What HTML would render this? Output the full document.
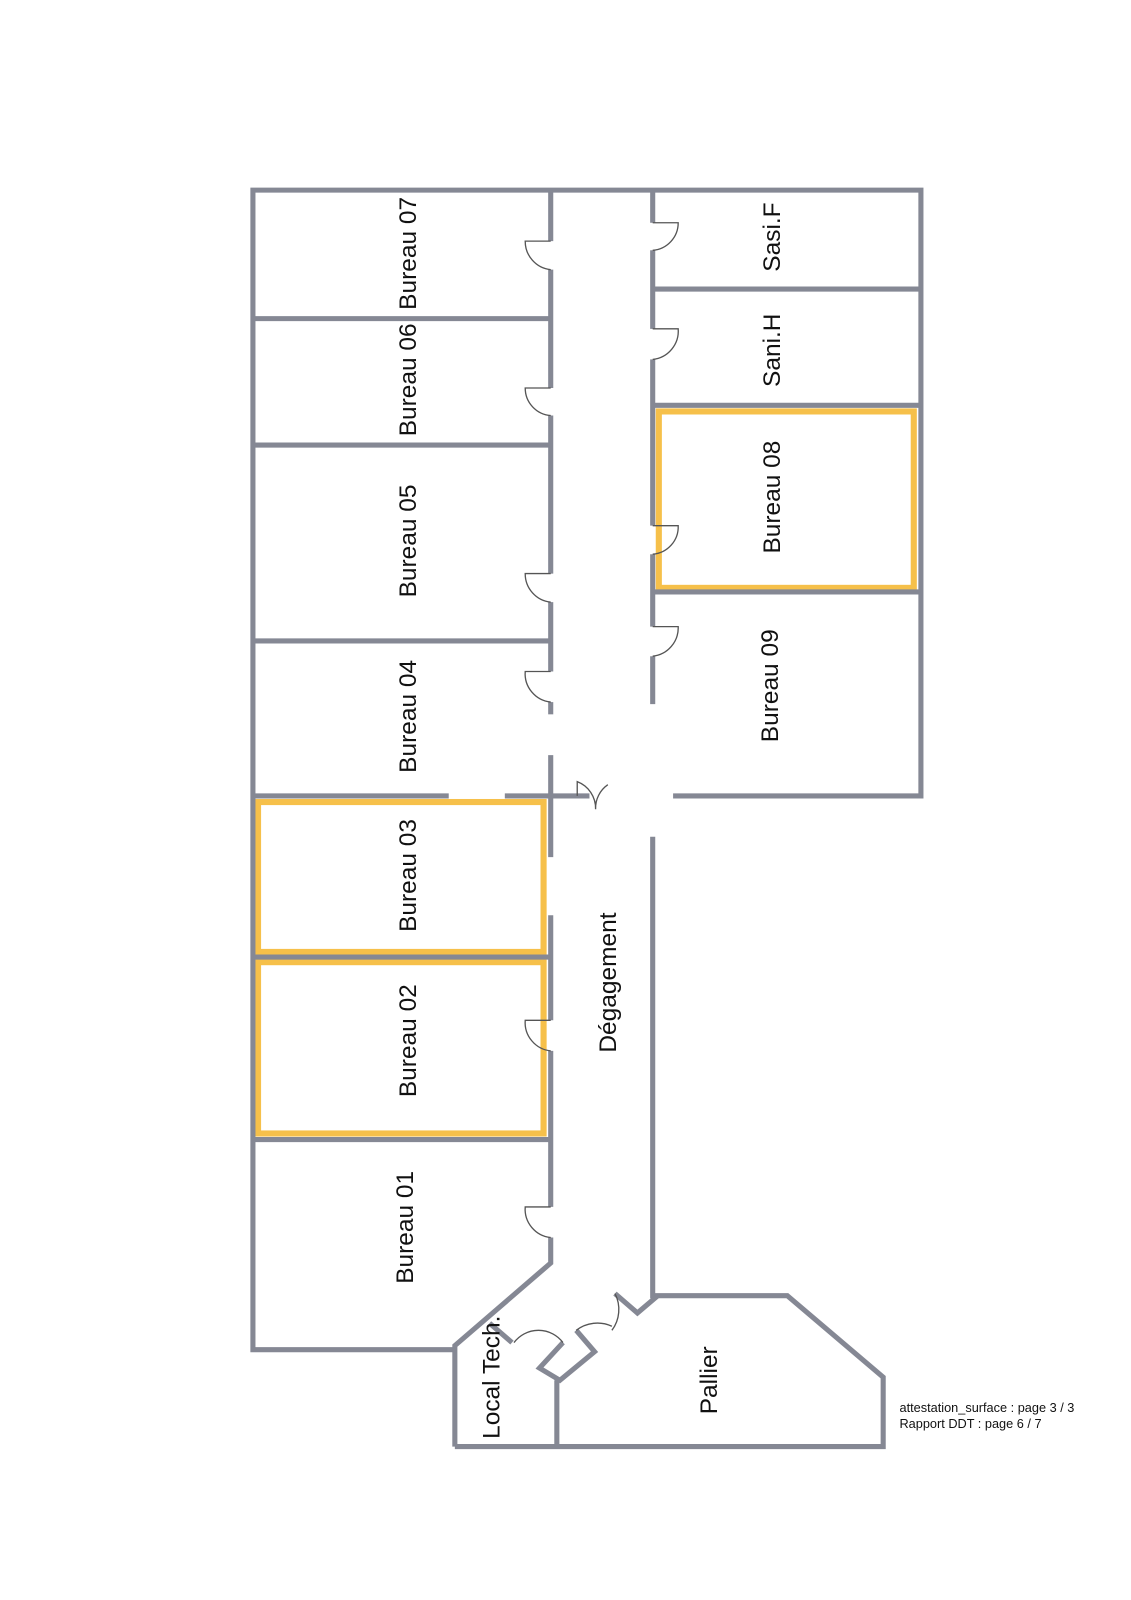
<!DOCTYPE html>
<html><head><meta charset="utf-8"><style>
html,body{margin:0;padding:0;background:#fff;}
svg{display:block;}
text{font-family:"Liberation Sans",sans-serif;fill:#111;}
</style></head><body>
<svg width="1131" height="1600" viewBox="0 0 1109 1568" xmlns="http://www.w3.org/2000/svg">
<rect width="1109" height="1568" fill="#fff"/>
<g fill="none" stroke="#f6c04a" stroke-width="6">
<rect x="253" y="786" width="280" height="147"/>
<rect x="253" y="943" width="280" height="168"/>
<rect x="646" y="403" width="250" height="173"/>
</g>
<g fill="none" stroke="#858894" stroke-width="5" stroke-linejoin="miter">
<polyline points="446,1323 248,1323 248,186 903,186 903,780 660,780"/>
<line x1="540" y1="186" x2="540" y2="236"/>
<line x1="540" y1="264" x2="540" y2="380"/>
<line x1="540" y1="407" x2="540" y2="562"/>
<line x1="540" y1="590" x2="540" y2="658"/>
<line x1="540" y1="688" x2="540" y2="700"/>
<line x1="540" y1="740" x2="540" y2="840"/>
<line x1="540" y1="897" x2="540" y2="1000"/>
<line x1="540" y1="1030" x2="540" y2="1183"/>
<polyline points="540,1213 540,1238 446,1319 446,1418"/>
<line x1="640" y1="186" x2="640" y2="218"/>
<line x1="640" y1="245" x2="640" y2="322"/>
<line x1="640" y1="352" x2="640" y2="515"/>
<line x1="640" y1="543" x2="640" y2="614"/>
<line x1="640" y1="643" x2="640" y2="690"/>
<polyline points="640,820 640,1270 772,1270 866,1350 866,1418 446,1418"/>
<line x1="640" y1="283" x2="903" y2="283"/>
<line x1="640" y1="397" x2="903" y2="397"/>
<line x1="640" y1="580" x2="903" y2="580"/>
<line x1="248" y1="312" x2="540" y2="312"/>
<line x1="248" y1="436" x2="540" y2="436"/>
<line x1="248" y1="628" x2="540" y2="628"/>
<line x1="248" y1="780" x2="440" y2="780"/>
<line x1="495" y1="780" x2="578" y2="780"/>
<line x1="248" y1="938" x2="540" y2="938"/>
<line x1="248" y1="1117" x2="540" y2="1117"/>
<line x1="546" y1="1418" x2="546" y2="1353"/>
<polyline points="552,1316 529,1341 549,1353 583,1325 565,1304"/>
<polyline points="603,1268 625,1287 645,1270"/>
<polyline points="480,1297 502,1316"/>
</g>
<g fill="none" stroke="#555" stroke-width="1.3">
<path d="M540,236 H515 A28,28 0 0 0 540,264"/>
<path d="M540,380 H515 A27,27 0 0 0 540,407"/>
<path d="M540,562 H515 A28,28 0 0 0 540,590"/>
<path d="M540,658 H515 A28,28 0 0 0 540,688"/>
<path d="M540,1000 H515 A28,28 0 0 0 540,1030"/>
<path d="M540,1183 H515 A28,28 0 0 0 540,1213"/>
<path d="M640,218 H665 A27,27 0 0 1 640,245"/>
<path d="M640,322 H665 A28,28 0 0 1 640,352"/>
<path d="M640,515 H665 A27,27 0 0 1 640,543"/>
<path d="M640,614 H665 A28,28 0 0 1 640,643"/>
<path d="M566,780 V766 A28,28 0 0 1 584,793 A28,28 0 0 1 596,769"/>
<path d="M504,1316 A30,30 0 0 1 552,1316"/>
<path d="M565,1304 A34,34 0 0 1 600,1300"/>
<path d="M603,1268 A34,34 0 0 1 600,1304"/>
</g>
<g font-size="24" text-anchor="middle">
<text transform="translate(408,248) rotate(-90)">Bureau 07</text>
<text transform="translate(408,372) rotate(-90)">Bureau 06</text>
<text transform="translate(408,530) rotate(-90)">Bureau 05</text>
<text transform="translate(408,702) rotate(-90)">Bureau 04</text>
<text transform="translate(408,858) rotate(-90)">Bureau 03</text>
<text transform="translate(408,1020) rotate(-90)">Bureau 02</text>
<text transform="translate(405,1203) rotate(-90)">Bureau 01</text>
<text transform="translate(765,232) rotate(-90)">Sasi.F</text>
<text transform="translate(765,343) rotate(-90)">Sani.H</text>
<text transform="translate(765,487) rotate(-90)">Bureau 08</text>
<text transform="translate(763,672) rotate(-90)">Bureau 09</text>
<text transform="translate(604,963) rotate(-90)">Dégagement</text>
<text transform="translate(703,1353) rotate(-90)">Pallier</text>
<text transform="translate(490,1350) rotate(-90)">Local Tech.</text>
</g>
<g font-size="12.5">
<text x="882" y="1384">attestation_surface : page 3 / 3</text>
<text x="882" y="1400">Rapport DDT : page 6 / 7</text>
</g>
</svg>
</body></html>
